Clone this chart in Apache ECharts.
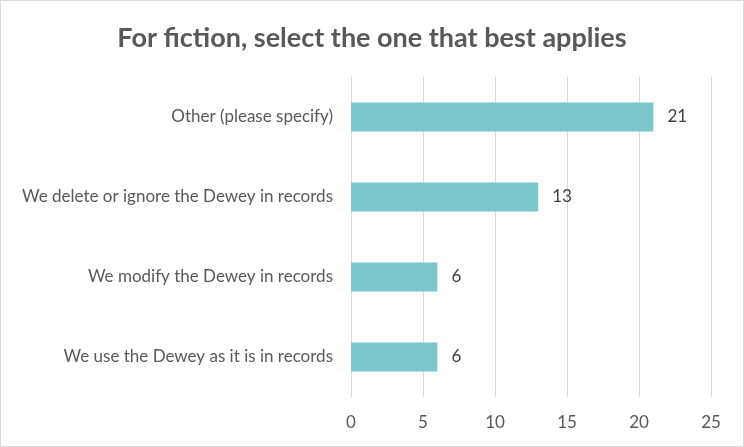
<!DOCTYPE html>
<html>
<head>
<meta charset="utf-8">
<script src="https://cdn.jsdelivr.net/npm/echarts@6/dist/echarts.min.js"></script>
<style>
html,body{margin:0;padding:0;background:#fff;}
#c{width:744px;height:447px;box-sizing:border-box;border:1px solid #d9d9d9;}
</style>
</head>
<body>
<div id="c"></div>
<script>
var titleText = 'For fiction, select the one that best applies';
var categories = ['We use the Dewey as it is in records', 'We modify the Dewey in records', 'We delete or ignore the Dewey in records', 'Other (please specify)'];
var values = [6, 6, 13, 21];
var xTicks = [0, 5, 10, 15, 20, 25];

var chart = echarts.init(document.getElementById('c'));
chart.setOption({
  animation: false,
  title: {
    text: titleText,
    left: 'center',
    top: 19,
    textStyle: {fontFamily: 'Lato', fontSize: 27, fontWeight: 'bold', color: '#595959'}
  },
  grid: {left: 350, right: 32, top: 76, bottom: 49, containLabel: false},
  xAxis: {
    type: 'value',
    min: xTicks[0],
    max: xTicks[xTicks.length - 1],
    interval: 5,
    axisLine: {show: false},
    axisTick: {show: false},
    splitLine: {lineStyle: {color: '#d9d9d9', width: 1}},
    axisLabel: {fontFamily: 'Lato', fontSize: 17, color: '#595959', margin: 17}
  },
  yAxis: {
    type: 'category',
    data: categories,
    axisLine: {lineStyle: {color: '#d9d9d9'}},
    axisTick: {show: false},
    axisLabel: {fontFamily: 'Lato', fontSize: 17, color: '#595959', margin: 18}
  },
  series: [{
    type: 'bar',
    data: values,
    barWidth: 29,
    itemStyle: {color: '#7cc7cb'},
    label: {show: true, position: 'right', distance: 14, fontFamily: 'Lato', fontSize: 17, color: '#404040'}
  }]
});
</script>
</body>
</html>
